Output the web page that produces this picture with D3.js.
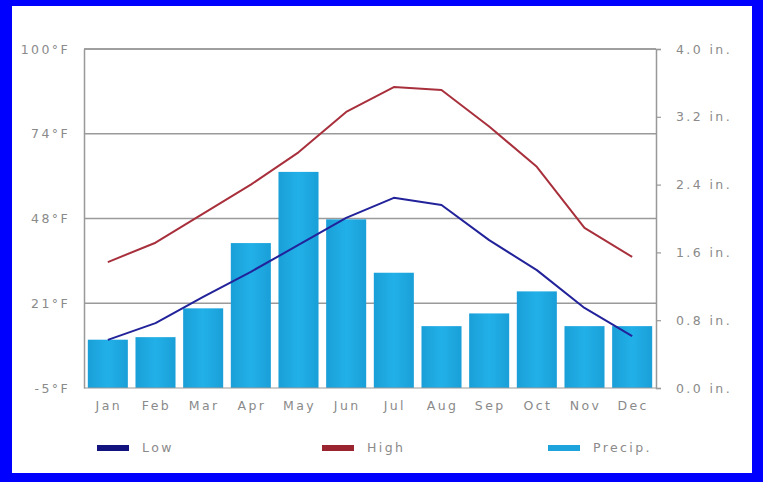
<!DOCTYPE html>
<html><head><meta charset="utf-8">
<script src="https://cdn.jsdelivr.net/npm/d3@7"></script>
<style>
html,body{margin:0;padding:0;background:#0000ff;}
svg{display:block;}
</style></head>
<body>
<script>
const months = ["Jan","Feb","Mar","Apr","May","Jun","Jul","Aug","Sep","Oct","Nov","Dec"];
const highF = [34, 40, 49, 58, 68, 80.5, 88.2, 87.3, 76, 63.5, 44.6, 35.6];
const lowF = [9.9, 15.1, 23.2, 31, 39.3, 47.7, 53.9, 51.7, 40.8, 31.5, 19.8, 11.1];
const precipIn = [0.57, 0.60, 0.94, 1.71, 2.55, 1.99, 1.36, 0.73, 0.88, 1.14, 0.73, 0.73];
const tempTicks = [-5, 21.25, 47.5, 73.75, 100];
const tempTickLabels = ["-5°F", "21°F", "48°F", "74°F", "100°F"];
const precipTicks = [0, 0.8, 1.6, 2.4, 3.2, 4.0];
const legendItems = [
  {label: "Low", color: "#12137f"},
  {label: "High", color: "#9a2430"},
  {label: "Precip.", color: "#1fa3dc"}
];

const W = 763, H = 482;
const FONT = "DejaVu Sans, Verdana, sans-serif";
const TXT = "#8a8a8a";
const LS = "2.4px";
const svg = d3.select("body").append("svg").attr("width", W).attr("height", H);
svg.append("rect").attr("x", 0).attr("y", 0).attr("width", W).attr("height", H).attr("fill", "#0000ff");
svg.append("rect").attr("x", 12).attr("y", 6).attr("width", 740).attr("height", 467).attr("fill", "#ffffff");

const L = 84, R = 656, T = 49, B = 388;
const x = d3.scaleBand().domain(months).range([L, R]).paddingInner(0.16).paddingOuter(0.08);
const yT = d3.scaleLinear().domain([-5, 100]).range([B, T]);
const yP = d3.scaleLinear().domain([0, 4]).range([B, T]);

const defs = svg.append("defs");
const grad = defs.append("linearGradient").attr("id", "barg").attr("x1", 0).attr("y1", 0).attr("x2", 1).attr("y2", 0);
grad.append("stop").attr("offset", "0%").attr("stop-color", "#1a9fd8");
grad.append("stop").attr("offset", "50%").attr("stop-color", "#22b0e8");
grad.append("stop").attr("offset", "100%").attr("stop-color", "#1a9fd8");

// gridlines
svg.append("g").selectAll("line").data(tempTicks.slice(1)).join("line")
  .attr("x1", L).attr("x2", R)
  .attr("y1", d => yT(d)).attr("y2", d => yT(d))
  .attr("stroke", "#9a9a9a").attr("stroke-width", 1.6);

// bars
svg.append("g").selectAll("rect").data(precipIn).join("rect")
  .attr("x", (d, i) => x(months[i]))
  .attr("width", x.bandwidth())
  .attr("y", d => yP(d))
  .attr("height", d => B - yP(d))
  .attr("fill", "url(#barg)");

// lines
const line = d3.line().x((d, i) => x(months[i]) + x.bandwidth() / 2).y(d => yT(d)).curve(d3.curveLinear);
svg.append("path").datum(highF).attr("d", line).attr("fill", "none").attr("stroke", "#a8303c").attr("stroke-width", 2).attr("stroke-linejoin", "round");
svg.append("path").datum(lowF).attr("d", line).attr("fill", "none").attr("stroke", "#22229a").attr("stroke-width", 2).attr("stroke-linejoin", "round");

function styleText(sel, size) {
  sel.attr("fill", TXT).style("font-family", FONT).style("font-size", size).style("letter-spacing", LS);
}

// left axis
const leftAxis = d3.axisLeft(yT).tickValues(tempTicks).tickFormat((d, i) => tempTickLabels[i]).tickSize(0).tickPadding(14);
const gl = svg.append("g").attr("transform", `translate(${L},0)`).call(leftAxis);
gl.select(".domain").attr("stroke", "#999").attr("stroke-width", 1.5);
styleText(gl.selectAll("text"), "12.5px");

// right axis
const rightAxis = d3.axisRight(yP).tickValues(precipTicks).tickFormat(d => d3.format(".1f")(d) + " in.").tickSize(5).tickPadding(15);
const gr = svg.append("g").attr("transform", `translate(${R},0)`).call(rightAxis);
gr.select(".domain").attr("stroke", "#999").attr("stroke-width", 1.5);
gr.selectAll(".tick line").attr("stroke", "#999").attr("stroke-width", 1.2);
styleText(gr.selectAll("text"), "12.5px");

// top border
svg.append("line").attr("x1", L).attr("x2", R).attr("y1", T).attr("y2", T).attr("stroke", "#999").attr("stroke-width", 1.6);
// bottom line
svg.append("line").attr("x1", L).attr("x2", R).attr("y1", B).attr("y2", B).attr("stroke", "#999").attr("stroke-width", 1);

// bottom axis
const bottomAxis = d3.axisBottom(x).tickSize(0).tickPadding(13);
const gb = svg.append("g").attr("transform", `translate(1,${B})`).call(bottomAxis);
gb.select(".domain").remove();
styleText(gb.selectAll("text"), "12.5px");

// legend
const lx = [97, 322, 548];
const lg = svg.append("g").selectAll("g").data(legendItems).join("g")
  .attr("transform", (d, i) => `translate(${lx[i]},448)`);
lg.append("rect").attr("x", 0).attr("y", -3).attr("width", 32).attr("height", 6).attr("fill", d => d.color);
lg.append("text").attr("x", 45).attr("y", 4).text(d => d.label);
styleText(lg.selectAll("text"), "12.5px");
</script>
</body></html>
